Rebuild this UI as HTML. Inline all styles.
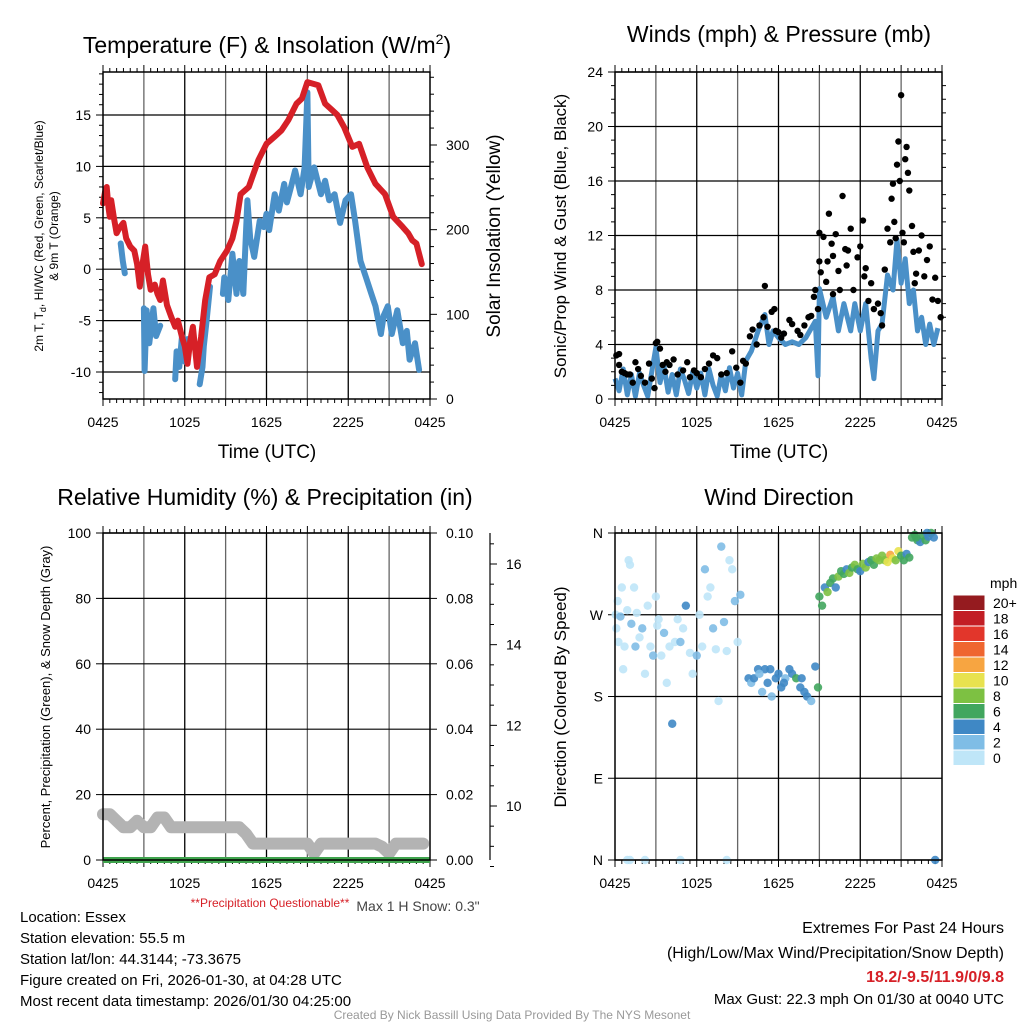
<!DOCTYPE html>
<html><head><meta charset="utf-8"><style>
html,body{margin:0;padding:0;background:#fff;}
svg{display:block;font-family:"Liberation Sans",sans-serif;}
</style></head><body>
<svg id="c" width="1024" height="1024" viewBox="0 0 1024 1024" xmlns="http://www.w3.org/2000/svg">
<g id="static">
<text x="267" y="53" font-size="23" text-anchor="middle">Temperature (F) &amp; Insolation (W/m<tspan font-size="14" dy="-9">2</tspan><tspan dy="9">)</tspan></text>
<text x="779" y="42" font-size="23" text-anchor="middle">Winds (mph) &amp; Pressure (mb)</text>
<text x="265" y="505" font-size="23" text-anchor="middle">Relative Humidity (%) &amp; Precipitation (in)</text>
<text x="779" y="505" font-size="23" text-anchor="middle">Wind Direction</text>
<text x="267" y="458" font-size="19" text-anchor="middle">Time (UTC)</text>
<text x="779" y="458" font-size="19" text-anchor="middle">Time (UTC)</text>
<text transform="translate(48,236) rotate(-90)" font-size="12" text-anchor="middle"><tspan x="0" y="-5">2m T, T<tspan font-size="9" dy="3">d</tspan><tspan dy="-3">, HI/WC (Red, Green, Scarlet/Blue)</tspan></tspan><tspan x="0" y="10">&amp; 9m T (Orange)</tspan></text>
<text transform="translate(500,236) rotate(-90)" font-size="19" text-anchor="middle">Solar Insolation (Yellow)</text>
<text transform="translate(566,236) rotate(-90)" font-size="17" text-anchor="middle">Sonic/Prop Wind &amp; Gust (Blue, Black)</text>
<text transform="translate(50,697) rotate(-90)" font-size="13" text-anchor="middle">Percent, Precipitation (Green), &amp; Snow Depth (Gray)</text>
<text transform="translate(566,697) rotate(-90)" font-size="17" text-anchor="middle">Direction (Colored By Speed)</text>
<text x="270" y="907" font-size="12" fill="#d62027" text-anchor="middle">**Precipitation Questionable**</text>
<text x="418" y="911" font-size="14" fill="#444" text-anchor="middle">Max 1 H Snow: 0.3"</text>
<g font-size="15">
<text x="20" y="922">Location: Essex</text>
<text x="20" y="943">Station elevation: 55.5 m</text>
<text x="20" y="964">Station lat/lon: 44.3144; -73.3675</text>
<text x="20" y="985">Figure created on Fri, 2026-01-30, at 04:28 UTC</text>
<text x="20" y="1006">Most recent data timestamp: 2026/01/30 04:25:00</text>
</g>
<g font-size="16" text-anchor="end">
<text x="1004" y="933">Extremes For Past 24 Hours</text>
<text x="1004" y="958">(High/Low/Max Wind/Precipitation/Snow Depth)</text>
<text x="1004" y="982" fill="#d62027" font-weight="bold">18.2/-9.5/11.9/0/9.8</text>
<text x="1004" y="1004" font-size="15">Max Gust: 22.3 mph On 01/30 at 0040 UTC</text>
</g>
<text x="512" y="1019" font-size="12" fill="#999" text-anchor="middle">Created By Nick Bassill Using Data Provided By The NYS Mesonet</text>
</g>
<g id="dyn"></g>
</svg>
<script>
// ---------- DATA ----------
const xTickLabels = ["0425","1025","1625","2225","0425"];
const tempHours = [0,0.15,0.27,0.4,0.5,0.6,0.8,1,1.2,1.5,1.7,2,2.3,2.5,2.7,2.9,3.1,3.3,3.5,3.8,4,4.2,4.4,4.7,5,5.3,5.5,5.8,6.0,6.2,6.4,6.6,6.9,7.2,7.5,7.8,8.2,8.6,9.1,9.5,9.8,10.1,10.7,11.4,12,12.6,13.1,13.6,14.2,14.6,15,15.8,16.3,16.8,17.2,17.7,18.3,18.8,19.4,20,20.7,21.3,22,22.4,22.7,23.0,23.4];
const tempValues = [6.4,7.5,8.0,6.0,5.1,6.7,5.0,3.5,4.0,4.5,3.0,2.2,1.8,0.5,-1.7,0.5,2.2,-0.5,-2.0,-1.5,-2.4,-3.0,-1.1,-3.5,-4.6,-5.6,-5.0,-6.6,-7.5,-9.2,-7.0,-5.6,-9.5,-6.6,-3.0,-0.8,-0.5,0.8,1.8,3.0,4.7,7.3,8.0,10.6,12.2,12.9,13.5,14.5,16.1,16.6,18.2,17.9,16.1,15.5,15.0,13.8,11.9,12.2,9.9,8.3,7.3,5.1,4.1,3.5,2.8,2.5,0.5];
const wcHours = [1.3,1.45,1.6,1.7,3.0,3.05,3.2,3.4,3.7,3.9,4.2,4.5,5.3,5.4,5.6,5.8,6.0,6.2,6.6,7.1,7.3,7.4,7.6,7.85,8.2,8.8,8.9,9.2,9.5,9.8,10,10.3,10.6,10.8,11,11.1,11.5,11.8,12,12.2,12.6,12.9,13.3,13.5,13.8,14.1,14.5,14.8,15.0,15.1,15.5,16,16.3,16.6,17,17.4,17.8,18.2,18.5,18.9,19.3,19.7,20,20.4,20.6,20.9,21.2,21.6,22,22.3,22.5,22.9,23.2];
const wcValues = [2.5,0.8,-0.4,null,-3.8,-9.9,-4.0,-7.2,-3.8,-6.5,-5.5,null,-10.7,-8.0,-9.5,-6.5,-9.0,-6.8,null,-11.2,-9.5,-7.5,-5.0,-1.7,null,-2.4,-0.8,-3.0,1.5,-2.4,0.8,-2.4,6.7,3.0,1.8,1.2,4.7,4.1,5.4,3.8,7.3,5.7,8.3,6.5,8.0,9.6,7.3,9.9,17.2,8.0,9.9,7.3,8.6,6.7,7.3,4.5,6.7,7.3,4.7,0.8,-0.8,-2.4,-3.6,-6.3,-4.5,-3.6,-6.3,-4.0,-7.2,-6.0,-8.8,-7.2,-9.8];
const tempTicks = [-10,-5,0,5,10,15];
const solarTicks = [0,100,200,300];
const windHours = [0,0.3,0.6,0.9,1.2,1.5,1.8,2.1,2.4,2.7,3.0,3.3,3.6,3.9,4.2,4.5,4.8,5.1,5.4,5.7,6.0,6.3,6.6,6.9,7.2,7.5,7.8,8.1,8.4,8.7,9.0,9.3,9.6,10,10.5,11,11.3,11.6,12,12.5,13,13.5,14,14.7,14.9,15.0,15.5,16,16.4,16.8,17.3,17.6,18,18.4,18.8,19,19.3,19.6,20,20.4,20.7,21,21.3,21.6,21.9,22.2,22.5,22.8,23.1,23.4,23.7];
const windValues = [1.5,0.6,2.2,0.3,1.8,0.2,1.9,1.0,0.2,2.0,3.8,1.2,2.4,0.5,1.8,0.3,2.2,1.4,0.4,2.0,0.8,1.9,0.3,2.2,1.0,0.2,1.8,0.6,2.3,0.8,1.9,0.3,2.8,3.5,5.0,6.2,4.0,5.0,4.5,4.0,4.2,4.0,4.5,5.7,1.7,8.1,6.0,7.5,5.0,7.0,5.0,7.0,5.0,7.0,3.0,1.5,5.0,5.5,9.1,8.0,11.7,8.5,10.3,7.0,8.0,5.0,6.0,4.0,5.5,4.0,5.2];
const gustHours = [0.1,0.3,0.3,0.5,0.7,0.9,1.1,1.3,1.5,1.7,1.9,2.2,2.5,2.7,2.9,3.0,3.1,3.3,3.5,3.7,3.8,4.0,4.3,4.6,5.0,5.3,5.5,5.8,6.0,6.3,6.6,6.9,7.2,7.5,7.8,8.2,8.6,8.9,9.2,9.4,9.6,9.9,10.1,10.4,10.6,10.9,11.0,11.2,11.5,11.7,11.8,12.0,12.2,12.4,12.8,13.0,13.4,13.6,13.9,14.2,14.4,14.6,14.7,14.9,15.0,15.0,15.1,15.3,15.5,15.7,15.9,16.0,16.2,16.4,16.5,16.7,16.9,17.1,17.3,17.5,17.8,18.0,18.2,18.4,18.6,18.8,16.0,17.0,18.3,15.6,19.0,19.3,19.5,19.6,19.8,20.0,20.2,20.3,20.5,20.7,20.8,20.9,21.0,21.1,21.3,21.4,21.6,21.8,22.1,22.3,22.5,22.7,22.9,23.1,23.3,23.5,23.7,23.9,21.5,20.4,21.2,22.0,20.6,21.9];
const gustValues = [3.2,3.3,2.5,2.0,1.9,1.8,1.8,1.2,2.7,2.2,1.7,1.2,2.6,1.5,0.8,4.1,4.2,3.7,2.5,2.0,2.7,2.5,2.9,1.8,2.1,2.7,1.6,2.1,1.9,1.6,2.2,2.6,3.2,3.0,1.8,1.9,3.5,2.3,1.2,2.8,2.6,4.6,5.1,4.0,5.4,6.0,8.3,5.3,6.4,6.6,5.0,4.9,4.5,4.8,5.8,5.5,5.0,4.7,5.4,6.0,6.1,7.5,8.0,6.6,10.1,12.2,9.3,11.9,8.6,13.6,11.4,10.5,12.1,9.4,8.0,14.9,11.0,10.9,12.5,8.0,10.4,11.2,13.1,9.6,7.2,8.5,7.7,9.8,9.0,10.1,6.6,7.0,6.3,5.4,9.5,12.5,11.5,14.7,13.0,17.2,18.9,16.0,22.3,12.2,17.6,18.5,15.3,12.7,9.2,10.9,12.0,9.0,10.2,11.2,7.3,8.9,7.2,6.0,16.6,15.8,11.5,8.5,11.8,10.8];
const windTicks = [0,4,8,12,16,20,24];
const snowHours = [0,0.5,1,1.5,2,2.5,3,3.5,4,4.5,5,6,7,8,9,10,10.5,11,12,13,14,15,15.5,16,17,18,19,20,20.5,21,21.5,22,23,23.5];
const snowValues = [14,14,12,10,10,12,10,10,13,13,10,10,10,10,10,10,8,5,5,5,5,5,2,5,5,5,5,5,4,2,5,5,5,5];
const precipHours = [0,24];
const precipValues = [0,0];
const rhTicks = [0,20,40,60,80,100];
const precipTickLabels = ["0.00","0.02","0.04","0.06","0.08","0.10"];
const snowTicks = [10,12,14,16];
const dirHours = [0.05,0.1,0.2,0.25,0.4,0.5,0.6,0.7,0.9,1.0,1.1,1.2,1.4,1.5,1.6,1.8,2.0,2.2,2.4,2.6,2.8,3.0,3.1,3.2,3.4,3.6,3.8,4.0,4.2,4.4,4.6,4.8,5.0,5.2,5.5,5.7,6.0,6.2,6.4,6.6,6.8,7.0,7.2,7.4,7.6,7.8,8.0,8.2,8.4,8.6,8.8,9.0,9.2,0.9,1.1,2.2,4.8,8.2,
9.8,10.0,10.2,10.5,10.8,11.0,11.2,11.5,11.8,12.0,12.2,12.5,12.8,13.0,13.3,13.6,13.9,14.1,14.4,14.7,14.9,10.6,11.4,12.4,13.7,
15.0,15.2,15.4,15.6,15.8,16.0,16.2,16.4,16.6,16.8,17.0,17.2,17.4,17.6,17.8,18.0,18.2,18.4,18.6,18.8,19.0,19.2,19.4,19.6,19.8,20.0,20.2,20.4,20.6,20.8,21.0,21.2,21.4,21.6,
21.8,22.0,22.2,22.4,22.6,22.8,23.0,23.2,23.4,23.5,22.1,22.9];
const dirValues = [270,255,285,240,268,300,210,235,275,330,325,260,300,235,272,245,255,205,280,235,225,290,258,265,225,250,195,235,150,240,265,240,255,280,228,205,225,270,235,320,290,300,255,232,175,345,262,230,330,320,285,240,292,0,0,0,0,0,
200,195,200,210,185,210,195,180,200,205,190,200,210,205,200,190,185,180,175,213,190,205,210,195,200,
290,280,300,295,305,310,300,312,318,315,320,316,322,325,320,318,326,322,328,330,325,332,330,335,330,328,336,332,330,340,335,330,337,333,
355,358,352,350,357,352,356,360,355,0,355,360];
const dirSpeeds = [0,0,1,0,2,0,1,0,0,0,0,3,0,2,0,0,3,0,0,1,2,0,0,1,0,3,0,0,4,0,0,2,0,4,0,0,2,0,0,3,0,0,2,1,0,3,2,0,0,0,3,0,2,0,0,0,0,0,
4,3,5,4,2,5,4,3,5,4,4,3,5,4,7,4,5,4,3,4,6,3,5,4,4,
7,6,5,8,6,7,5,8,7,6,5,8,7,8,6,5,9,8,5,6,7,8,9,8,9,10,12,10,9,10,7,6,5,6,
6,7,6,5,6,7,5,6,4,4,7,5];
const colorBinLabels = ["0","2","4","6","8","10","12","14","16","18","20+"];
const colorBinColors = ["#bfe6f8","#7fbde6","#3f88c5","#41a65e","#7dc142","#e8e24f","#f7a541","#ef6630","#e2362b","#c21e25","#951b1f"];
const dirTickLabels = ["N","E","S","W","N"];
const dirTicks = [0,90,180,270,360];

// ---------- DRAW ----------
const NS="http://www.w3.org/2000/svg";
const root=document.getElementById('dyn');
function mk(tag,attrs,parent){const e=document.createElementNS(NS,tag);for(const k in attrs)e.setAttribute(k,attrs[k]);(parent||root).appendChild(e);return e;}
function scale(d0,d1,r0,r1){return v=>r0+(v-d0)/(d1-d0)*(r1-r0);}

function frame(L,T,R,B,name){
  const g=mk('g',{});
  
  
  const sx=scale(0,24,L,R);
  for(let h=3;h<24;h+=3){
    const l=mk('line',{x1:sx(h),x2:sx(h),y1:T,y2:B,stroke:(h%6==0?'#000':'#666'),'stroke-width':1.3},g);
    
    
  }
  for(let h=0;h<=24;h+=0.5){
    const len=(h%3==0)?7:4;
    mk('line',{x1:sx(h),x2:sx(h),y1:B,y2:B+len,stroke:'#000','stroke-width':1},g);
    mk('line',{x1:sx(h),x2:sx(h),y1:T,y2:T-len,stroke:'#000','stroke-width':1},g);
  }
  xTickLabels.forEach((t,i)=>{
    const tx=mk('text',{x:sx(i*6),y:B+28,'font-size':14,'text-anchor':'middle'},g);
    tx.textContent=t;
    
    
  });
  return {g,sx};
}
function border(L,T,R,B){mk('rect',{x:L,y:T,width:R-L,height:B-T,fill:'none',stroke:'#000','stroke-width':1.5});}
function hgrid(g,sy,ticks,L,R,labels){
  ticks.forEach((v,i)=>{
    const l=mk('line',{x1:L,x2:R,y1:sy(v),y2:sy(v),stroke:'#000','stroke-width':1.2},g);
    
    
    mk('line',{x1:L-7,x2:L,y1:sy(v),y2:sy(v),stroke:'#000'},g);
    const t=mk('text',{x:L-12,y:sy(v)+5,'font-size':14,'text-anchor':'end'},g);
    t.textContent=labels?labels[i]:v;
    
    
  });
}
function pathFrom(xs,ys,sx,sy){
  let d='',pen=false;
  for(let i=0;i<xs.length;i++){
    if(ys[i]===null||ys[i]===undefined){pen=false;continue;}
    d+=(pen?'L':'M')+sx(xs[i]).toFixed(1)+','+sy(ys[i]).toFixed(1);pen=true;
  }
  return d;
}

// Panel 1
(function(){
  const L=103,T=72,R=430,B=399;
  const {g,sx}=frame(L,T,R,B,'temperature-panel');
  const sy=scale(-10,15,372,115);
  hgrid(g,sy,tempTicks,L,R);
  const ss=scale(0,300,399,145);
  solarTicks.forEach(v=>{
    mk('line',{x1:R,x2:R+7,y1:ss(v),y2:ss(v),stroke:'#000'});
    const t=mk('text',{x:R+16,y:ss(v)+5,'font-size':14});t.textContent=v;
    
    
  });
  for(let v=20;v<390;v+=20){if(v%100)mk('line',{x1:R,x2:R+4,y1:ss(v),y2:ss(v),stroke:'#000'});}
  for(let v=-12;v<=19;v++){if(v%5)mk('line',{x1:L-4,x2:L,y1:sy(v),y2:sy(v),stroke:'#000'});}
  const wc=mk('path',{d:pathFrom(wcHours,wcValues,sx,sy),fill:'none',stroke:'#4a90c8','stroke-width':6,'stroke-linejoin':'round','stroke-linecap':'round'});
  
  
  const tl=mk('path',{d:pathFrom(tempHours,tempValues,sx,sy),fill:'none',stroke:'#d62027','stroke-width':6,'stroke-linejoin':'round','stroke-linecap':'round'});
  
  
  border(L,T,R,B);
})();

// Panel 2
(function(){
  const L=615,T=72,R=942,B=399;
  const {g,sx}=frame(L,T,R,B,'wind-panel');
  const sy=scale(0,24,B,T);
  hgrid(g,sy,windTicks,L,R);
  for(let v=1;v<24;v++){if(v%4){mk('line',{x1:L-4,x2:L,y1:sy(v),y2:sy(v),stroke:'#000'});mk('line',{x1:R,x2:R+4,y1:sy(v),y2:sy(v),stroke:'#000'});}}
  const wl=mk('path',{d:pathFrom(windHours,windValues,sx,sy),fill:'none',stroke:'#4a90c8','stroke-width':5,'stroke-linejoin':'round'});
  
  
  gustHours.forEach((h,i)=>{
    const c=mk('circle',{cx:sx(h),cy:sy(gustValues[i]),r:3.2,fill:'#000'});
    
    
  });
  border(L,T,R,B);
})();

// Panel 3
(function(){
  const L=103,T=533,R=430,B=860;
  const {g,sx}=frame(L,T,R,B,'humidity-panel');
  const sy=scale(0,100,B,T);
  hgrid(g,sy,rhTicks,L,R);
  rhTicks.forEach((v,i)=>{
    mk('line',{x1:R,x2:R+7,y1:sy(v),y2:sy(v),stroke:'#000'});
    const t=mk('text',{x:R+16,y:sy(v)+5,'font-size':14});t.textContent=precipTickLabels[i];
    
    
  });
  const sd=scale(10,16,806,564);
  mk('line',{x1:490,x2:490,y1:T,y2:B,stroke:'#000','stroke-width':1.2});
  snowTicks.forEach(v=>{
    mk('line',{x1:490,x2:497,y1:sd(v),y2:sd(v),stroke:'#000'});
    const t=mk('text',{x:506,y:sd(v)+5,'font-size':14});t.textContent=v;
    
    
  });
  for(let v=8.5;v<17;v+=0.5){if(v%2)mk('line',{x1:490,x2:494,y1:sd(v),y2:sd(v),stroke:'#000'});}
  const sn=mk('path',{d:pathFrom(snowHours,snowValues,sx,sy),fill:'none',stroke:'#b3b3b3','stroke-width':12,'stroke-linejoin':'round','stroke-linecap':'round'});
  
  
  const pr=mk('path',{d:pathFrom(precipHours,precipValues,sx,sy),fill:'none',stroke:'#3fa34d','stroke-width':6});
  
  
  border(L,T,R,B);
})();

// Panel 4
(function(){
  const L=615,T=533,R=942,B=860;
  const {g,sx}=frame(L,T,R,B,'wind-direction-panel');
  const sy=scale(0,360,B,T);
  hgrid(g,sy,dirTicks,L,R,dirTickLabels);
  dirHours.forEach((h,i)=>{
    const c=mk('circle',{cx:sx(h),cy:sy(dirValues[i]),r:4.2,fill:colorBinColors[Math.min(10,Math.floor(dirSpeeds[i]/2))],'fill-opacity':0.9});
    
    
  });
  border(L,T,R,B);
  const cb=mk('g',{});
  
  
  const t=mk('text',{x:990,y:588,'font-size':14},cb);t.textContent='mph';
  const top=595,bh=15.5;
  colorBinColors.slice().reverse().forEach((col,i)=>{
    mk('rect',{x:953,y:top+i*bh,width:32,height:bh,fill:col,stroke:'#fff','stroke-width':1},cb);
    const lt=mk('text',{x:993,y:top+i*bh+bh/2+5,'font-size':14},cb);
    lt.textContent=colorBinLabels[10-i];
  });
})();
</script>
</body></html>
